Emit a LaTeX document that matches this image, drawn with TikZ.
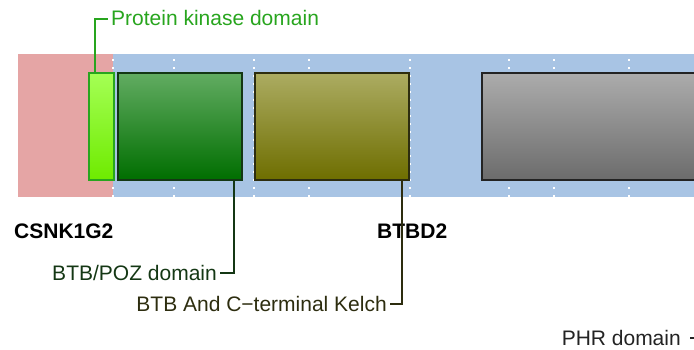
\documentclass[tikz,border=0pt]{standalone}
\usepackage{fontspec}
\setmainfont{Liberation Sans}
\usetikzlibrary{positioning}
\definecolor{bgRed}{RGB}{229,165,165}
\definecolor{bgBlue}{RGB}{168,196,228}
\definecolor{kinGreen}{RGB}{40,165,30}
\definecolor{btbGreen}{RGB}{20,55,20}
\definecolor{kelchOlive}{RGB}{45,45,15}
\definecolor{phrGray}{RGB}{35,35,35}

\tikzset{
  domain/.style={draw=#1, line width=1.6pt, inner sep=0pt, anchor=north west, minimum height=107pt},
  lbl/.style={font=\fontsize{21}{24}\selectfont, inner sep=0pt, text height=15pt, text depth=1pt},
  gene/.style={font=\fontsize{21}{24}\selectfont\bfseries, inner sep=0pt},
  guide/.style={white, line width=1.4pt, dash pattern=on 1.4pt off 6.6pt},
  leader/.style={line width=1.7pt, draw=#1},
}

\begin{document}
\begin{tikzpicture}[x=1pt,y=-1pt]
\useasboundingbox (0,0) rectangle (694,350);
% gene backgrounds
\fill[bgRed] (18,54) rectangle (113,197);
\fill[bgBlue] (113,54) rectangle (700,197);
\foreach \gx in {113,174,254,309,410,509,554,629}
  \draw[guide] (\gx,59.3) -- (\gx,197);

% domains
\node[domain=kinGreen, top color={rgb,255:red,165;green,255;blue,85}, bottom color={rgb,255:red,110;green,235;blue,0}, minimum width=25pt] (kinase) at (88,72) {};
\node[domain=btbGreen, top color={rgb,255:red,98;green,172;blue,98}, bottom color={rgb,255:red,0;green,110;blue,0}, minimum width=124pt] (btb) at (117,72) {};
\node[domain=kelchOlive, top color={rgb,255:red,172;green,172;blue,98}, bottom color={rgb,255:red,110;green,110;blue,0}, minimum width=154pt] (kelch) at (254,72) {};
\node[domain=phrGray, top color={rgb,255:red,172;green,172;blue,172}, bottom color={rgb,255:red,108;green,108;blue,108}, minimum width=226pt] (phr) at (481,72) {};

% gene names
\node[gene, anchor=base west] (csnk) at (14,238) {CSNK1G2};
\node[gene, anchor=base west] (btbd) at (377,239) {BTBD2};

% domain labels
\node[lbl, kinGreen, anchor=base west] (kinaseTxt) at (111,26) {Protein kinase domain};
\node[lbl, btbGreen, anchor=base east] (btbTxt) at (217,280) {BTB/POZ domain};
\node[lbl, kelchOlive, anchor=base east] (kelchTxt) at (387,311) {BTB And C−terminal Kelch};
\node[lbl, phrGray, anchor=base east] (phrTxt) at (681,345) {PHR domain};

\draw[leader=kinGreen] ([xshift=7pt]kinase.north west) |- ([xshift=-3pt]kinaseTxt.west);
\draw[leader=btbGreen] ([xshift=-8.5pt]btb.south east) |- ([xshift=3pt]btbTxt.east);
\draw[leader=kelchOlive] ([xshift=-7.5pt]kelch.south east) |- ([xshift=3pt]kelchTxt.east);
\draw[leader=phrGray] ([xshift=-8pt]phr.south east) |- ([xshift=9pt]phrTxt.east);
\end{tikzpicture}
\end{document}
